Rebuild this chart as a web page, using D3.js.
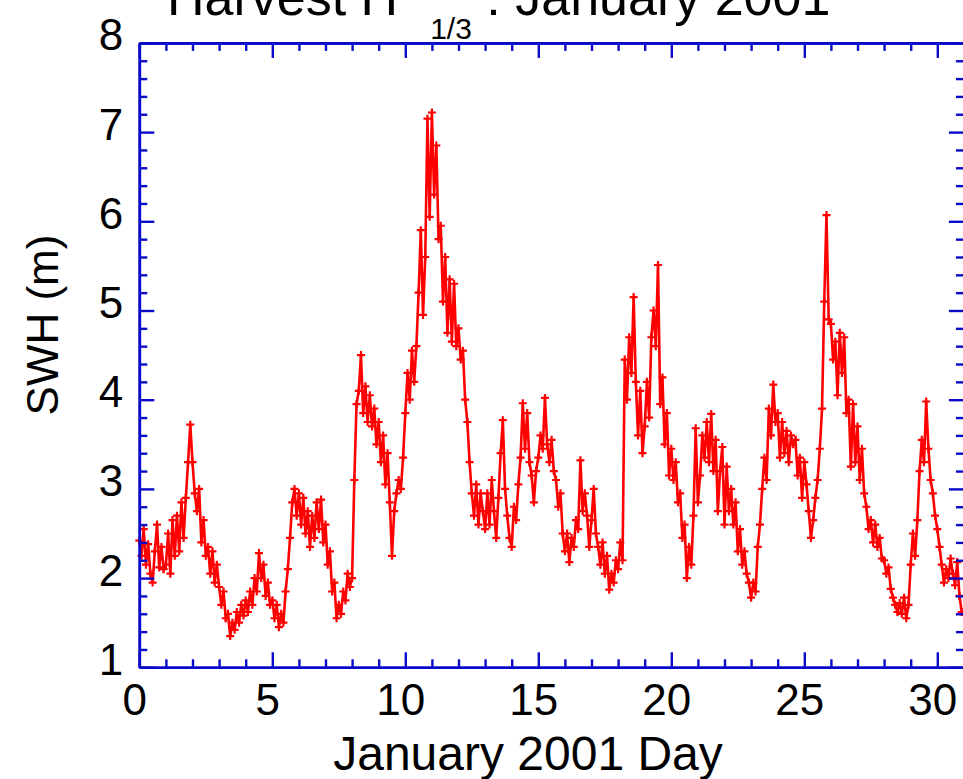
<!DOCTYPE html>
<html>
<head>
<meta charset="utf-8">
<script src="https://cdn.jsdelivr.net/npm/d3@7"></script>
<style>
  html, body { margin: 0; padding: 0; background: #ffffff; overflow: hidden; }
  svg { display: block; }
  text { font-family: "Liberation Sans", Arial, Helvetica, sans-serif; fill: #000; }
</style>
</head>
<body>
<svg id="chart" width="963" height="779"></svg>
<script>
// Significant wave height at Harvest platform, January 2001, sampled every 2 hours.
const sampleStepHours = 2;
const swhMetres = [
  // day 0
  2.42, 2.25, 2.55, 2.15, 2.38, 2.05, 1.95, 2.30, 2.60, 2.12, 2.35, 2.10,
  // day 1
  2.15, 2.50, 2.05, 2.65, 2.25, 2.70, 2.30, 2.85, 2.45, 2.90, 3.30, 3.72,
  // day 2
  3.30, 2.95, 2.75, 3.00, 2.40, 2.65, 2.25, 2.35, 2.05, 2.30, 1.95, 2.15,
  // day 3
  1.90, 1.70, 1.85, 1.55, 1.60, 1.35, 1.50, 1.42, 1.62, 1.50, 1.70, 1.58,
  // day 4
  1.75, 1.62, 1.85, 1.70, 2.00, 1.85, 2.28, 2.00, 2.15, 1.80, 1.95, 1.70,
  // day 5
  1.75, 1.55, 1.70, 1.45, 1.60, 1.50, 1.85, 2.10, 2.45, 2.85, 3.00, 2.70,
  // day 6
  2.95, 2.60, 2.90, 2.50, 2.75, 2.35, 2.70, 2.45, 2.85, 2.55, 2.88, 2.40,
  // day 7
  2.60, 2.15, 2.30, 1.85, 1.95, 1.55, 1.70, 1.60, 1.85, 1.75, 2.05, 1.90,
  // day 8
  2.00, 3.10, 3.95, 4.10, 4.50, 3.85, 4.15, 3.75, 4.05, 3.70, 3.90, 3.50,
  // day 9
  3.75, 3.30, 3.60, 3.05, 3.40, 2.85, 2.25, 2.75, 2.95, 3.10, 3.00, 3.35,
  // day 10
  3.85, 4.30, 4.00, 4.55, 4.20, 4.60, 5.20, 5.90, 4.95, 5.60, 7.15, 6.05,
  // day 11
  7.22, 6.30, 6.85, 5.80, 5.95, 5.10, 5.60, 4.75, 5.35, 4.65, 5.30, 4.60,
  // day 12
  4.80, 4.45, 4.55, 4.00, 3.75, 3.30, 2.95, 2.70, 3.05, 2.60, 2.95, 2.75,
  // day 13
  2.55, 2.95, 2.60, 3.10, 2.75, 2.45, 2.90, 3.40, 3.77, 3.00, 2.70, 2.45,
  // day 14
  2.35, 2.80, 2.65, 3.05, 3.35, 3.96, 3.45, 3.85, 3.30, 3.15, 2.85, 3.20,
  // day 15
  3.35, 3.60, 3.45, 4.02, 3.50, 3.30, 3.55, 3.20, 3.10, 2.80, 2.95, 2.50,
  // day 16
  2.30, 2.50, 2.18, 2.45, 2.35, 2.65, 2.55, 3.32, 2.75, 2.95, 2.70, 2.35,
  // day 17
  2.65, 3.00, 2.50, 2.35, 2.15, 2.40, 2.05, 2.25, 1.87, 2.05, 1.95, 2.20,
  // day 18
  2.10, 2.40, 2.20, 4.45, 4.00, 4.70, 4.30, 5.15, 4.20, 3.60, 4.10, 3.40,
  // day 19
  3.70, 4.20, 3.80, 4.70, 5.00, 4.60, 5.51, 3.95, 4.25, 3.50, 3.85, 3.15,
  // day 20
  3.45, 3.10, 3.30, 2.85, 2.95, 2.45, 2.60, 2.00, 2.35, 2.15, 2.70, 3.68,
  // day 21
  2.85, 3.15, 3.60, 3.35, 3.75, 3.30, 3.84, 3.20, 3.55, 2.75, 3.20, 3.47,
  // day 22
  2.60, 3.25, 2.75, 3.00, 2.60, 2.85, 2.30, 2.55, 2.15, 2.30, 2.05, 1.95,
  // day 23
  1.78, 1.95, 1.85, 2.35, 2.60, 3.00, 3.35, 3.10, 3.90, 3.60, 4.17, 3.75,
  // day 24
  3.85, 3.35, 3.75, 3.40, 3.65, 3.30, 3.60, 3.50, 3.55, 3.15, 3.35, 2.90,
  // day 25
  3.30, 3.05, 2.75, 2.45, 2.65, 2.90, 3.10, 3.45, 3.90, 5.10, 6.07, 4.90,
  // day 26
  4.85, 4.45, 4.65, 4.05, 4.75, 4.30, 4.70, 3.85, 4.00, 3.25, 3.95, 3.30,
  // day 27
  3.70, 3.10, 3.45, 2.95, 2.80, 2.55, 2.65, 2.40, 2.60, 2.35, 2.45, 2.22,
  // day 28
  2.20, 2.05, 2.12, 1.88, 1.78, 1.70, 1.62, 1.72, 1.60, 1.78, 1.55, 1.70,
  // day 29
  2.15, 2.50, 2.25, 2.65, 3.20, 3.55, 3.30, 3.98, 3.45, 3.10, 2.95, 2.70,
  // day 30
  2.55, 2.35, 2.15, 1.95, 2.10, 2.00, 2.22, 2.05, 1.92, 2.18, 1.80, 1.62
];

const titleMain = "Harvest H";
const titleSub = "1/3";
const titleTail = " : January 2001";
const xTitle = "January 2001 Day";
const yTitle = "SWH (m)";

const xDomain = [0, 31];
const yDomain = [1, 8];
const xMajorTicks = [0, 5, 10, 15, 20, 25, 30];
const xMinorTicks = d3.range(0, 32, 1).filter(d => d % 5 !== 0);
const yMajorTicks = [1, 2, 3, 4, 5, 6, 7, 8];
const yMinorTicks = d3.range(1, 8.001, 0.2).map(d => +d.toFixed(1)).filter(d => Math.abs(d - Math.round(d)) > 1e-6);

const plot = { left: 139.3, top: 42.9, right: 963.9, bottom: 667.3 };
const axisColor = "#0a0ac8";
const lineColor = "#ff0000";
const majorLen = 15, minorLen = 8;

const svg = d3.select("#chart");

const x = d3.scaleLinear().domain(xDomain).range([plot.left, plot.right]);
const y = d3.scaleLinear().domain(yDomain).range([plot.bottom, plot.top]);

const points = swhMetres.map((v, i) => ({ t: i * sampleStepHours / 24, v }));

// series line
svg.append("path")
  .datum(points)
  .attr("fill", "none")
  .attr("stroke", lineColor)
  .attr("stroke-width", 2.6)
  .attr("stroke-linejoin", "miter")
  .attr("d", d3.line().x(d => x(d.t)).y(d => y(d.v)));

// plus markers at every sample
svg.append("g")
  .selectAll("path")
  .data(points)
  .join("path")
  .attr("transform", d => `translate(${x(d.t)},${y(d.v)})`)
  .attr("d", "M-4,0H4M0,-4V4")
  .attr("stroke", lineColor)
  .attr("stroke-width", 2.2)
  .attr("fill", "none");

// axes: frame with inward ticks on all four sides
function styleAxis(g) {
  g.select(".domain").attr("stroke", axisColor).attr("stroke-width", 2.6);
  g.selectAll(".tick line").attr("stroke", axisColor).attr("stroke-width", 2.4);
}

function addAxis(axisFn, scale, translate, majors, minors, showLabels) {
  const gMinor = svg.append("g").attr("transform", translate)
    .call(axisFn(scale).tickValues(minors).tickSize(-minorLen).tickSizeOuter(0).tickFormat(""));
  styleAxis(gMinor);
  const gMajor = svg.append("g").attr("transform", translate)
    .call(axisFn(scale).tickValues(majors).tickSize(-majorLen).tickSizeOuter(0)
      .tickFormat(showLabels ? d3.format("d") : ""));
  styleAxis(gMajor);
  return gMajor;
}

const gx = addAxis(d3.axisBottom, x, `translate(0,${plot.bottom})`, xMajorTicks, xMinorTicks, true);
gx.selectAll(".tick text")
  .attr("font-size", 44)
  .attr("font-family", "Liberation Sans, Arial, sans-serif")
  .attr("fill", "#000")
  .attr("y", 0).attr("dy", 48)
  .attr("x", -5);

addAxis(d3.axisTop, x, `translate(0,${plot.top})`, xMajorTicks, xMinorTicks, false);

const gy = addAxis(d3.axisLeft, y, `translate(${plot.left},0)`, yMajorTicks, yMinorTicks, true);
gy.selectAll(".tick text")
  .attr("font-size", 44)
  .attr("font-family", "Liberation Sans, Arial, sans-serif")
  .attr("fill", "#000")
  .attr("x", -16)
  .attr("dy", "0.32em")
  .attr("y", -7);

addAxis(d3.axisRight, y, `translate(${plot.right},0)`, yMajorTicks, yMinorTicks, false);

// axis titles
svg.append("text")
  .attr("x", 528).attr("y", 770)
  .attr("text-anchor", "middle")
  .attr("font-size", 48)
  .text(xTitle);

svg.append("text")
  .attr("transform", "translate(58,325) rotate(-90)")
  .attr("text-anchor", "middle")
  .attr("font-size", 44)
  .text(yTitle);

// chart title with subscript
const title = svg.append("text")
  .attr("x", 167).attr("y", 15)
  .attr("font-size", 52);
title.append("tspan").text(titleMain);
title.append("tspan").attr("font-size", 30).attr("dx", 32).attr("dy", 24).text(titleSub);
title.append("tspan").attr("dy", -24).text(titleTail);
</script>
</body>
</html>
